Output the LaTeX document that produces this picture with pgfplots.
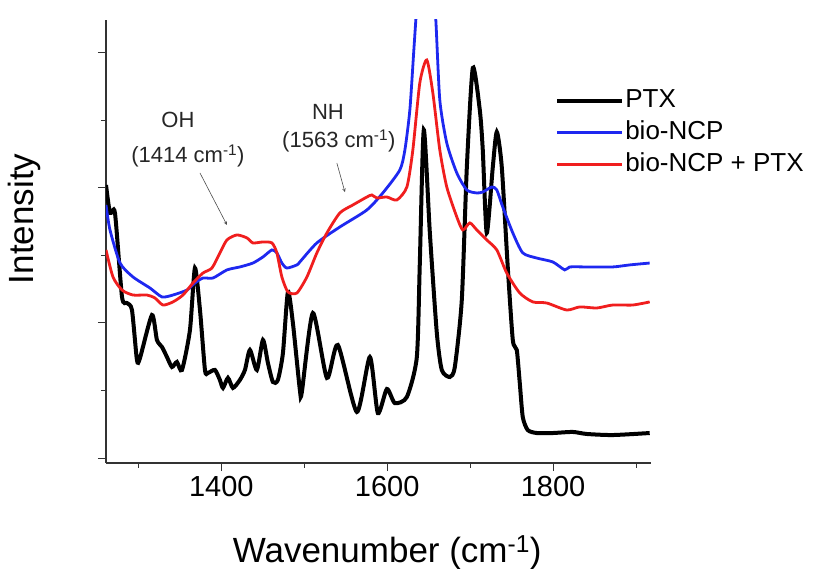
\documentclass[border=0pt]{standalone}
\usepackage{pgfplots}
\pgfplotsset{compat=1.18}
\usepackage{fontspec}
\setmainfont{Liberation Sans}
\definecolor{ncpblue}{RGB}{30,40,240}
\definecolor{ncpred}{RGB}{240,30,30}
\begin{document}
\begin{tikzpicture}
\useasboundingbox (-106pt,-106pt) rectangle (710pt,463pt);
\begin{axis}[
  scale only axis,
  width=545pt, height=443pt,
  xmin=1261, xmax=1918,
  ymin=-0.037, ymax=3.244,
  axis x line*=bottom, axis y line*=left,
  axis line style={black!80, line width=1.2pt},
  xtick={1400,1600,1800},
  minor xtick={1300,1500,1700,1900},
  ytick={0,1,2,3},
  minor ytick={0.5,1.5,2.5},
  yticklabels={},
  tick align=outside,
  major tick length=8pt, minor tick length=5pt,
  tick style={black!80, line width=1pt},
  /pgf/number format/assume math mode=true,
  /pgf/number format/1000 sep={},
  ticklabel style={font=\fontsize{29}{34}\selectfont},
  xticklabel style={yshift=-2pt},
  xlabel={Wavenumber (cm\textsuperscript{-1})},
  xlabel style={at={(rel axis cs:0.516,-0.2235)}, anchor=base, font=\fontsize{35}{40}\selectfont},
  ylabel={Intensity},
  ylabel style={at={(rel axis cs:-0.149,0.551)}, anchor=center, rotate=0, font=\fontsize{35}{40}\selectfont},
  legend cell align=left,
  legend style={at={(rel axis cs:0.824,0.848)}, anchor=north west, draw=none, fill=none,
    font=\fontsize{26}{30}\selectfont, row sep=6pt, inner sep=0pt,
    nodes={inner sep=1pt, text height=19pt, text depth=5pt}},
  legend image code/.code={\draw[#1] (0pt,0pt) -- (65pt,0pt);},
]
\addplot[black, line width=4pt, smooth, tension=0.4] coordinates {
(1261,2.022)(1265.8,1.815)(1271.8,1.815)(1280.3,1.193)(1286.3,1.148)(1292.3,1.096)
(1298.3,0.726)(1302.0,0.741)(1316.4,1.059)(1322.4,0.874)(1328.5,0.822)(1334.5,0.748)
(1340.5,0.674)(1346.5,0.711)(1352.6,0.652)(1362.2,0.948)(1368.2,1.407)(1374.3,1.096)
(1380.3,0.652)(1383.9,0.630)(1392.3,0.652)(1398.3,0.578)(1402.0,0.519)(1408.0,0.593)
(1414.0,0.519)(1422.4,0.578)(1428.5,0.652)(1434.5,0.800)(1442.9,0.652)(1450.2,0.874)
(1456.2,0.704)(1462.2,0.563)(1468.2,0.578)(1474.3,0.778)(1480.3,1.230)(1486.3,1.000)
(1494.7,0.504)(1497.1,0.489)(1510.4,1.074)(1527.3,0.593)(1540.5,0.837)(1563.4,0.341)
(1579.1,0.748)(1588.7,0.333)(1599.6,0.511)(1609.2,0.407)(1623.7,0.452)(1635.7,0.748)
(1639.3,1.444)(1644.1,2.430)(1651.4,1.667)(1659.8,0.926)(1665.8,0.652)(1675.5,0.600)
(1681.5,0.674)(1689.9,1.170)(1696.0,2.156)(1703.2,2.889)(1711.6,2.578)(1715.2,2.281)
(1720.0,1.667)(1727.3,2.156)(1732.1,2.415)(1738.1,2.156)(1745.3,1.415)(1751.4,0.874)
(1756.2,0.800)(1759.8,0.556)(1763.4,0.304)(1769.4,0.207)(1780.3,0.185)(1799.6,0.185)
(1823.6,0.193)(1840.5,0.178)(1871.8,0.170)(1916.4,0.185)
};
\addlegendentry{PTX}
\addplot[ncpblue, line width=2.8pt, smooth, tension=0.4] coordinates {
(1261,1.874)(1265.8,1.689)(1277.9,1.444)(1293.5,1.341)(1314.0,1.259)(1328.5,1.193)
(1341.7,1.207)(1358.6,1.244)(1368.2,1.296)(1377.9,1.333)(1389.9,1.333)(1406.8,1.393)
(1422.4,1.415)(1438.1,1.444)(1450.2,1.489)(1461.0,1.541)(1467.0,1.519)(1473.0,1.444)
(1479.1,1.407)(1491.1,1.430)(1494.7,1.452)(1515.2,1.593)(1542.9,1.711)(1575.5,1.837)
(1594.7,1.963)(1615.2,2.133)(1621.3,2.281)(1627.3,2.578)(1632.1,3.022)(1634.5,3.244)
(1639.3,3.689)(1646.5,3.985)(1653.7,3.689)(1658.6,3.244)(1663.4,2.652)(1671.8,2.333)
(1683.9,2.111)(1696.0,1.985)(1708.0,1.963)(1715.2,1.970)(1726.1,2.007)(1732.1,1.985)
(1739.3,1.859)(1751.4,1.667)(1763.4,1.519)(1780.3,1.481)(1799.6,1.452)(1814.0,1.393)
(1820.0,1.415)(1840.5,1.415)(1871.8,1.415)(1892.3,1.430)(1916.4,1.444)
};
\addlegendentry{bio-NCP}
\addplot[ncpred, line width=2.8pt, smooth, tension=0.4] coordinates {
(1261,1.541)(1269.4,1.341)(1280.3,1.244)(1293.5,1.207)(1310.4,1.207)(1320.0,1.185)
(1329.7,1.133)(1341.7,1.156)(1353.8,1.207)(1365.8,1.296)(1377.9,1.370)(1388.7,1.407)
(1398.3,1.519)(1406.8,1.615)(1418.8,1.652)(1430.9,1.630)(1438.1,1.593)(1450.2,1.600)
(1461.0,1.593)(1467.0,1.519)(1473.0,1.341)(1480.3,1.230)(1491.1,1.222)(1503.2,1.341)
(1515.2,1.519)(1527.3,1.667)(1542.9,1.815)(1558.6,1.874)(1575.5,1.933)(1581.5,1.948)
(1587.5,1.926)(1599.6,1.933)(1611.6,1.911)(1623.7,2.007)(1630.9,2.281)(1639.3,2.778)
(1647.7,2.948)(1655.0,2.704)(1663.4,2.281)(1671.8,2.007)(1683.9,1.785)(1691.1,1.689)
(1699.6,1.741)(1708.0,1.689)(1720.0,1.615)(1732.1,1.541)(1744.1,1.370)(1759.8,1.222)
(1775.5,1.156)(1792.3,1.148)(1816.4,1.096)(1832.1,1.119)(1852.6,1.111)(1871.8,1.133)
(1895.9,1.133)(1916.4,1.156)
};
\addlegendentry{bio-NCP + PTX}
\node[font=\fontsize{22}{25}\selectfont, text=black!85] at (axis cs:1347.7,2.504) {OH};
\node[font=\fontsize{22}{25}\selectfont, text=black!85] at (axis cs:1359.8,2.237) {(1414 cm\textsuperscript{-1})};
\node[font=\fontsize{22}{25}\selectfont, text=black!85] at (axis cs:1528.5,2.563) {NH};
\node[font=\fontsize{22}{25}\selectfont, text=black!85] at (axis cs:1541.7,2.348) {(1563 cm\textsuperscript{-1})};
\draw[-stealth, black!70, line width=0.6pt] (axis cs:1374.3,2.111) -- (axis cs:1406.8,1.726);
\draw[-stealth, black!70, line width=0.6pt] (axis cs:1539.3,2.185) -- (axis cs:1549.0,1.970);
\end{axis}
\end{tikzpicture}
\end{document}
